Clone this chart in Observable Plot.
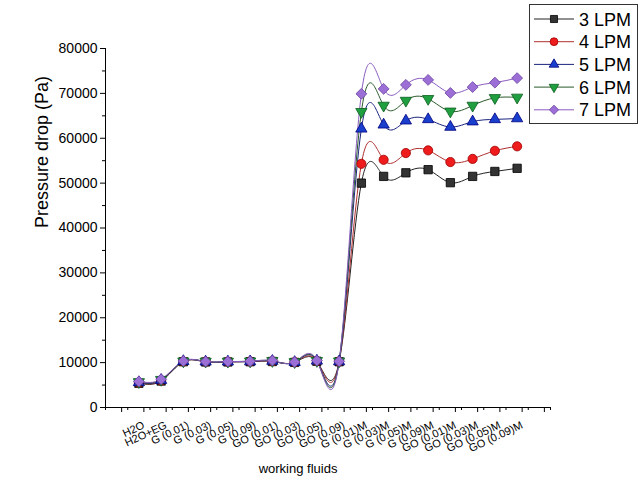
<!DOCTYPE html>
<html><head><meta charset="utf-8">
<script src="https://cdn.jsdelivr.net/npm/d3@7"></script>
<script src="https://cdn.jsdelivr.net/npm/@observablehq/plot@0.6"></script>
<style>
body{margin:0;background:#fff;font-family:"Liberation Sans",Arial,sans-serif}
#wrap{position:relative;width:640px;height:483px;overflow:hidden}
#legend{position:absolute;left:529px;top:4px;width:107px;height:118px;border:1px solid #333;background:#fff}
</style></head><body>
<div id="wrap"></div>
<script>
const categories = ["H2O","H2O+EG","G (0.01)","G (0.03)","G (0.05)","G (0.09)","GO (0.01)","GO (0.03)","GO (0.05)","GO (0.09)",
  "G (0.01)M","G (0.03)M","G (0.05)M","G (0.09)M","GO (0.01)M","GO (0.03)M","GO (0.05)M","GO (0.09)M"];
const seriesNames = ["3 LPM","4 LPM","5 LPM","6 LPM","7 LPM"];
const lpm3 = [5400,5900,10200,10150,10150,10200,10250,10050,10300,10200, 50000,51500,52300,53000,50100,51500,52600,53300];
const lpm4 = [5500,6000,10250,10200,10200,10250,10300,10100,10350,10250, 54300,55200,56700,57300,54700,55400,57200,58200];
const lpm5 = [5600,6100,10300,10200,10200,10250,10350,10100,10400,10250, 62100,63000,63900,64200,62500,63700,64200,64400];
const lpm6 = [5700,6200,10300,10250,10250,10300,10400,10150,10400,10300, 65900,67300,68400,68800,66000,67300,69000,69100];
const lpm7 = [5800,6300,10350,10250,10250,10300,10450,10150,10450,10300, 69900,71000,71900,73000,70100,71400,72400,73400];
const yMajorTicks = [0,10000,20000,30000,40000,50000,60000,70000,80000];
const yMinorTicks = [5000,15000,25000,35000,45000,55000,65000,75000];
const yDomain = [0, 80000];
const xDomain = [-1.5, categories.length + 0.5];

const triangleDown = {draw(ctx, size){ const y = -Math.sqrt(size/(Math.sqrt(3)*3)); ctx.moveTo(0,-2*y); ctx.lineTo(Math.sqrt(3)*y, y); ctx.lineTo(-Math.sqrt(3)*y, y); ctx.closePath(); }};
const styles = [
  {values: lpm3, symbol: "square", r: 4.7, fill: "#333", stroke: "#000", line: "#222"},
  {values: lpm4, symbol: "circle", r: 4.6, fill: "#ee1c1c", stroke: "#a00000", line: "#b03030"},
  {values: lpm5, symbol: "triangle", r: 4.2, fill: "#1a3fcc", stroke: "#000080", line: "#1a237e"},
  {values: lpm6, symbol: triangleDown, r: 4.2, fill: "#1f9f40", stroke: "#0b5e1e", line: "#2a5a2a"},
  {values: lpm7, symbol: "diamond2", r: 4.9, fill: "#9c6fd6", stroke: "#6a3f9f", line: "#8a5cc0"}
];
const data = styles.map((s, k) => s.values.map((v, i) => ({series: seriesNames[k], i, value: v})));

const xMajor = d3.range(-1, categories.length + 1);
const xMinor = d3.range(-1.5, categories.length + 1, 1);

const marks = [];
styles.forEach((s, k) => {
  marks.push(Plot.line(data[k], {x: "i", y: "value", stroke: s.line, strokeWidth: 1, curve: "natural"}));
});
styles.forEach((s, k) => {
  marks.push(Plot.dot(data[k], {x: "i", y: "value", symbol: s.symbol, r: s.r, fill: s.fill, stroke: s.stroke, strokeWidth: 0.8}));
});

const chart = Plot.plot({
  width: 640, height: 483,
  marginLeft: 105, marginRight: 90, marginTop: 48, marginBottom: 76,
  style: {fontFamily: "'Liberation Sans', Arial, sans-serif", background: "#fff", color: "#000"},
  x: {type: "linear", domain: xDomain},
  y: {domain: yDomain},
  marks: [
    Plot.ruleX([xDomain[0]], {y1: yDomain[0], y2: yDomain[1], stroke: "#000", strokeWidth: 1}),
    Plot.ruleY([yDomain[0]], {x1: xDomain[0], x2: xDomain[1], stroke: "#000", strokeWidth: 1}),
    Plot.axisY({ticks: yMajorTicks, tickSize: 5, tickPadding: 3, fontSize: 14, label: null, tickFormat: d => String(d)}),
    Plot.axisY({ticks: yMinorTicks, tickSize: 3, tickFormat: () => "", label: null}),
    Plot.axisX({ticks: xMajor, tickSize: 5, tickPadding: 12, tickRotate: -25, fontSize: 11, dx: 5, label: null,
      tickFormat: i => categories[i] ?? ""}),
    Plot.axisX({ticks: xMinor, tickSize: 3, tickFormat: () => "", label: null}),
    ...marks,
    Plot.text(["Pressure drop (Pa)"], {text: d => d, frameAnchor: "left", rotate: -90, dx: -63, fontSize: 18}),
    Plot.text(["working fluids"], {text: d => d, frameAnchor: "bottom", dx: -30, dy: 65, fontSize: 13})
  ]
});
const wrap = document.getElementById("wrap");
wrap.appendChild(chart);

// legend
const leg = d3.select(wrap).append("div").attr("id", "legend");
const svg = leg.append("svg").attr("width", 107).attr("height", 118);
const symMap = {square: d3.symbolSquare, circle: d3.symbolCircle, triangle: d3.symbolTriangle, diamond2: d3.symbolDiamond2};
styles.forEach((s, k) => {
  const yy = 14 + k * 22.7;
  const g = svg.append("g");
  g.append("line").attr("x1", 4).attr("x2", 44).attr("y1", yy).attr("y2", yy).attr("stroke", s.line).attr("stroke-width", 1);
  const symType = typeof s.symbol === "string" ? symMap[s.symbol] : s.symbol;
  const rr = s.r * 0.85;
  g.append("path").attr("d", d3.symbol(symType, rr * rr * Math.PI)())
    .attr("transform", `translate(24,${yy})`).attr("fill", s.fill).attr("stroke", s.stroke).attr("stroke-width", 0.8);
  g.append("text").attr("x", 49).attr("y", yy + 6.5).attr("font-size", 18).attr("fill", "#000")
    .attr("font-family", "'Liberation Sans', Arial, sans-serif").text(seriesNames[k]);
});
</script>
</body></html>
